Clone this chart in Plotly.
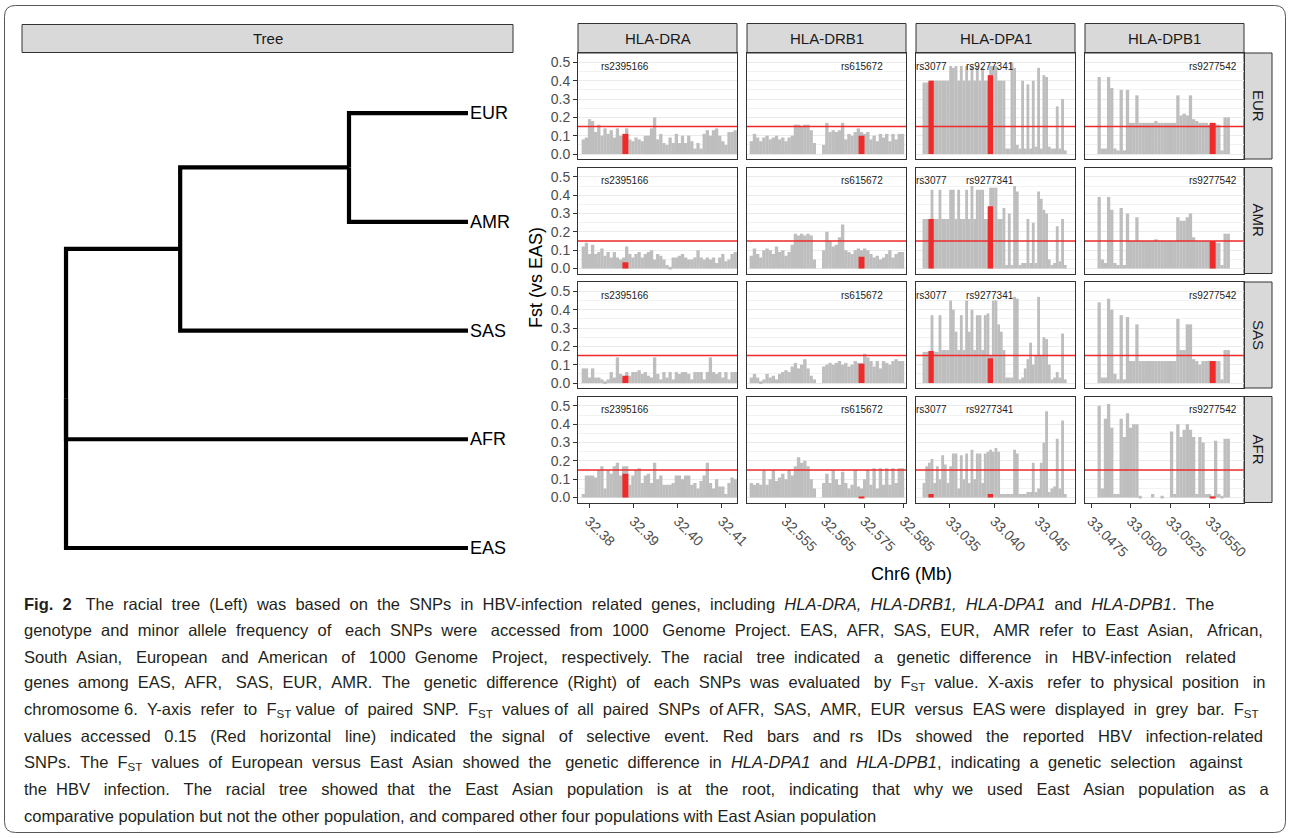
import re
import plotly.graph_objects as go

W, H = 1290, 838
FONT = "Liberation Sans, Arial, Helvetica, sans-serif"

genes = ["HLA-DRA", "HLA-DRB1", "HLA-DPA1", "HLA-DPB1"]
pops = ["EUR", "AMR", "SAS", "AFR"]

# ---------------- HLA-DRA ----------------
dra_pos = [32.3787, 32.3794, 32.3801, 32.3808, 32.3815, 32.3822, 32.3829, 32.3836, 32.3843, 32.3850,
           32.3857, 32.3864, 32.3871, 32.3878, 32.3885, 32.3892, 32.3899, 32.3906, 32.3913, 32.3920,
           32.3927, 32.3934, 32.3941, 32.3948, 32.3955, 32.3962, 32.3969, 32.3976, 32.3983, 32.3990,
           32.3997, 32.4004, 32.4011, 32.4018, 32.4025, 32.4032, 32.4039, 32.4046, 32.4053, 32.4060,
           32.4067, 32.4074, 32.4081, 32.4088, 32.4095, 32.4102, 32.4109, 32.4116, 32.4123, 32.4130]
dra_eur = [0.08, 0.09, 0.19, 0.18, 0.12, 0.16, 0.10, 0.14, 0.11, 0.13, 0.09, 0.14, 0.10, 0.10, 0.14, 0.08, 0.07, 0.09, 0.08, 0.07,
           0.10, 0.10, 0.14, 0.20, 0.08, 0.11, 0.06, 0.05, 0.09, 0.06, 0.11, 0.06, 0.10, 0.06, 0.10, 0.07, 0.03, 0.06, 0.03, 0.11,
           0.13, 0.10, 0.13, 0.14, 0.10, 0.07, 0.05, 0.12, 0.12, 0.13]
dra_amr = [0.12, 0.14, 0.08, 0.13, 0.08, 0.09, 0.11, 0.07, 0.09, 0.06, 0.09, 0.06, 0.05, 0.06, 0.12, 0.08, 0.06, 0.08, 0.09, 0.06,
           0.08, 0.09, 0.10, 0.05, 0.08, 0.07, 0.05, 0.02, 0.01, 0.06, 0.06, 0.07, 0.08, 0.06, 0.05, 0.05, 0.06, 0.10, 0.06, 0.05,
           0.06, 0.05, 0.06, 0.03, 0.06, 0.08, 0.04, 0.05, 0.08, 0.09]
dra_sas = [0.08, 0.08, 0.03, 0.08, 0.03, 0.03, 0.02, 0.01, 0.02, 0.06, 0.03, 0.14, 0.05, 0.03, 0.06, 0.04, 0.06, 0.06, 0.07, 0.05,
           0.06, 0.04, 0.03, 0.14, 0.05, 0.02, 0.06, 0.03, 0.06, 0.02, 0.06, 0.05, 0.06, 0.06, 0.05, 0.02, 0.06, 0.06, 0.06, 0.02,
           0.06, 0.14, 0.06, 0.05, 0.06, 0.03, 0.06, 0.02, 0.06, 0.06]
dra_afr = [0.02, 0.12, 0.12, 0.12, 0.11, 0.15, 0.17, 0.05, 0.15, 0.13, 0.17, 0.19, 0.12, 0.17, 0.17, 0.07, 0.12, 0.15, 0.16, 0.08,
           0.12, 0.13, 0.08, 0.19, 0.10, 0.12, 0.07, 0.07, 0.07, 0.08, 0.12, 0.12, 0.10, 0.12, 0.12, 0.07, 0.08, 0.05, 0.09, 0.12,
           0.19, 0.08, 0.05, 0.10, 0.06, 0.06, 0.02, 0.08, 0.11, 0.10]

# ---------------- HLA-DRB1 ----------------
drb1_pos = [32.5463, 32.5471, 32.5479, 32.5487, 32.5495, 32.5503, 32.5511, 32.5519, 32.5527, 32.5535,
            32.5543, 32.5551, 32.5559, 32.5567, 32.5575, 32.5583, 32.5591, 32.5599, 32.5607, 32.5615,
            32.5623, 32.5631, 32.5639, 32.5647, 32.5655, 32.5663, 32.5671, 32.5679, 32.5687, 32.5695,
            32.5703, 32.5711, 32.5719, 32.5727, 32.5735, 32.5743, 32.5751, 32.5759, 32.5767, 32.5775,
            32.5783, 32.5791, 32.5799, 32.5807, 32.5815, 32.5823, 32.5831, 32.5839, 32.5847]
drb1_eur = [0.07, 0.11, 0.09, 0.07, 0.09, 0.10, 0.08, 0.09, 0.10, 0.08, 0.09, 0.07, 0.09, 0.10, 0.16, 0.16, 0.15, 0.16, 0.16, 0.13,
            0.06, 0.0, 0.0, 0.05, 0.17, 0.12, 0.13, 0.12, 0.13, 0.17, 0.08, 0.11, 0.10, 0.12, 0.14, 0.12, 0.11, 0.12, 0.08, 0.10,
            0.07, 0.11, 0.09, 0.11, 0.07, 0.11, 0.08, 0.11, 0.11]
drb1_amr = [0.07, 0.11, 0.08, 0.06, 0.10, 0.11, 0.10, 0.08, 0.12, 0.09, 0.10, 0.07, 0.09, 0.13, 0.19, 0.18, 0.19, 0.18, 0.19, 0.18,
            0.05, 0.0, 0.0, 0.10, 0.20, 0.15, 0.12, 0.13, 0.17, 0.24, 0.10, 0.09, 0.08, 0.10, 0.11, 0.10, 0.11, 0.10, 0.08, 0.06,
            0.07, 0.05, 0.06, 0.08, 0.10, 0.06, 0.08, 0.09, 0.09]
drb1_sas = [0.03, 0.05, 0.03, 0.01, 0.02, 0.05, 0.03, 0.04, 0.02, 0.05, 0.06, 0.07, 0.06, 0.09, 0.11, 0.08, 0.10, 0.13, 0.08, 0.04,
            0.02, 0.0, 0.0, 0.09, 0.10, 0.11, 0.10, 0.11, 0.12, 0.10, 0.11, 0.09, 0.10, 0.12, 0.11, 0.11, 0.16, 0.14, 0.12, 0.09,
            0.12, 0.08, 0.12, 0.11, 0.10, 0.12, 0.13, 0.12, 0.12]
drb1_afr = [0.08, 0.07, 0.08, 0.07, 0.15, 0.07, 0.10, 0.15, 0.09, 0.11, 0.13, 0.10, 0.15, 0.12, 0.17, 0.22, 0.19, 0.20, 0.17, 0.10,
            0.05, 0.0, 0.0, 0.08, 0.13, 0.08, 0.15, 0.10, 0.07, 0.14, 0.08, 0.05, 0.07, 0.15, 0.06, 0.05, 0.10, 0.15, 0.07, 0.16,
            0.05, 0.16, 0.07, 0.16, 0.07, 0.16, 0.08, 0.16, 0.16]

# ---------------- HLA-DPA1 ----------------
dpa1_pos = [33.0321, 33.0324, 33.0327, 33.0330, 33.0333, 33.0336, 33.0339, 33.0342, 33.0345, 33.0348,
            33.0351, 33.0354, 33.0357, 33.0360, 33.0363, 33.0366, 33.0369, 33.0372, 33.0375, 33.0378,
            33.0381, 33.0384, 33.0387, 33.0390, 33.0393, 33.0396, 33.0399, 33.0402, 33.0405, 33.0408,
            33.0411, 33.0414, 33.0417, 33.0420, 33.0423, 33.0426, 33.0429, 33.0432, 33.0435, 33.0438,
            33.0441, 33.0444, 33.0447, 33.0450, 33.0453, 33.0456, 33.0459, 33.0462, 33.0465, 33.0468,
            33.0471, 33.0474, 33.0477, 33.0480]
dpa1_eur = [0.39, 0.39, 0.39, 0.40, 0.40, 0.40, 0.40, 0.40, 0.40, 0.40, 0.48, 0.47, 0.48, 0.40, 0.48, 0.40, 0.48, 0.40, 0.48, 0.40,
            0.48, 0.40, 0.47, 0.40, 0.40, 0.48, 0.48, 0.48, 0.40, 0.40, 0.40, 0.03, 0.03, 0.50, 0.47, 0.05, 0.03, 0.40, 0.03, 0.38,
            0.03, 0.40, 0.04, 0.47, 0.03, 0.43, 0.42, 0.04, 0.03, 0.03, 0.26, 0.03, 0.30, 0.02]
dpa1_amr = [0.27, 0.27, 0.27, 0.43, 0.27, 0.27, 0.43, 0.27, 0.27, 0.27, 0.43, 0.43, 0.27, 0.43, 0.27, 0.27, 0.43, 0.27, 0.45, 0.27,
            0.43, 0.43, 0.43, 0.27, 0.27, 0.44, 0.44, 0.44, 0.27, 0.27, 0.33, 0.02, 0.30, 0.02, 0.45, 0.42, 0.02, 0.03, 0.03, 0.27,
            0.03, 0.25, 0.03, 0.42, 0.38, 0.32, 0.30, 0.05, 0.02, 0.03, 0.23, 0.04, 0.27, 0.02]
dpa1_sas = [0.17, 0.17, 0.17, 0.37, 0.17, 0.17, 0.37, 0.18, 0.18, 0.18, 0.45, 0.40, 0.28, 0.18, 0.37, 0.18, 0.45, 0.28, 0.40, 0.18,
            0.37, 0.37, 0.18, 0.37, 0.38, 0.15, 0.45, 0.45, 0.32, 0.28, 0.18, 0.03, 0.03, 0.03, 0.47, 0.46, 0.02, 0.03, 0.08, 0.13,
            0.22, 0.10, 0.15, 0.47, 0.15, 0.25, 0.24, 0.10, 0.02, 0.03, 0.06, 0.03, 0.27, 0.02]
dpa1_afr = [0.08, 0.17, 0.19, 0.21, 0.08, 0.17, 0.10, 0.23, 0.18, 0.08, 0.17, 0.24, 0.24, 0.05, 0.23, 0.10, 0.24, 0.08, 0.26, 0.10,
            0.24, 0.24, 0.08, 0.24, 0.25, 0.26, 0.25, 0.27, 0.25, 0.02, 0.02, 0.02, 0.02, 0.02, 0.26, 0.24, 0.02, 0.02, 0.02, 0.03,
            0.03, 0.19, 0.03, 0.05, 0.19, 0.30, 0.47, 0.03, 0.05, 0.06, 0.32, 0.05, 0.42, 0.02]

# ---------------- HLA-DPB1 ----------------
dpb1_pos = [33.0480, 33.0482, 33.0484, 33.0486, 33.0488, 33.0490, 33.0492, 33.0494, 33.0496, 33.0498,
            33.0500, 33.0502, 33.0504, 33.0506, 33.0508, 33.0510, 33.0512, 33.0514, 33.0516, 33.0518,
            33.0520, 33.0522, 33.0524, 33.0526, 33.0528, 33.0530, 33.0532, 33.0534, 33.0536, 33.0538,
            33.0540, 33.0542, 33.0544, 33.0546, 33.0548, 33.0550, 33.0552, 33.0554, 33.0556, 33.0558,
            33.0560, 33.0562]
dpb1_eur = [0.42, 0.03, 0.03, 0.42, 0.36, 0.03, 0.02, 0.35, 0.02, 0.35, 0.17, 0.17, 0.32, 0.17, 0.17, 0.17, 0.17, 0.17, 0.18, 0.17,
            0.17, 0.17, 0.17, 0.17, 0.17, 0.32, 0.21, 0.22, 0.21, 0.32, 0.19, 0.18, 0.17, 0.17, 0.17, 0.16, 0.17, 0.16, 0.16, 0.02,
            0.20, 0.20]
dpb1_amr = [0.39, 0.05, 0.03, 0.39, 0.32, 0.03, 0.02, 0.33, 0.02, 0.30, 0.15, 0.15, 0.28, 0.15, 0.15, 0.15, 0.15, 0.15, 0.16, 0.15,
            0.15, 0.15, 0.15, 0.15, 0.15, 0.28, 0.26, 0.26, 0.28, 0.30, 0.17, 0.15, 0.15, 0.15, 0.15, 0.15, 0.15, 0.14, 0.14, 0.02,
            0.19, 0.19]
dpb1_sas = [0.44, 0.03, 0.03, 0.46, 0.40, 0.05, 0.02, 0.37, 0.02, 0.36, 0.12, 0.12, 0.32, 0.12, 0.12, 0.12, 0.12, 0.12, 0.12, 0.12,
            0.12, 0.12, 0.12, 0.12, 0.12, 0.35, 0.18, 0.18, 0.32, 0.32, 0.13, 0.12, 0.10, 0.12, 0.12, 0.12, 0.12, 0.12, 0.12, 0.02,
            0.18, 0.18]
dpb1_afr = [0.50, 0.05, 0.43, 0.51, 0.38, 0.02, 0.02, 0.43, 0.33, 0.46, 0.38, 0.40, 0.40, 0.01, 0.00, 0.00, 0.00, 0.02, 0.00, 0.00,
            0.01, 0.00, 0.00, 0.36, 0.02, 0.40, 0.33, 0.37, 0.40, 0.37, 0.33, 0.02, 0.33, 0.30, 0.02, 0.02, 0.01, 0.31, 0.02, 0.01,
            0.32, 0.32]

# ---------------- reported HBV-related SNPs (red bars) ----------------
snp_ids = {"HLA-DRA": ["rs2395166"], "HLA-DRB1": ["rs615672"],
           "HLA-DPA1": ["rs3077", "rs9277341"], "HLA-DPB1": ["rs9277542"]}
snp_pos = {"HLA-DRA": [32.3882], "HLA-DRB1": [32.5743],
           "HLA-DPA1": [33.0329, 33.03957], "HLA-DPB1": [33.05521]}
snp_fst = {
    "HLA-DRA": {"EUR": [0.11], "AMR": [0.035], "SAS": [0.04], "AFR": [0.13]},
    "HLA-DRB1": {"EUR": [0.10], "AMR": [0.065], "SAS": [0.105], "AFR": [0.005]},
    "HLA-DPA1": {"EUR": [0.40, 0.43], "AMR": [0.27, 0.34], "SAS": [0.175, 0.135], "AFR": [0.02, 0.02]},
    "HLA-DPB1": {"EUR": [0.17], "AMR": [0.15], "SAS": [0.12], "AFR": [0.005]},
}
threshold = 0.15

# ---------------- axis ticks ----------------
x_ticks = {"HLA-DRA": [32.38, 32.39, 32.40, 32.41],
           "HLA-DRB1": [32.555, 32.565, 32.575, 32.585],
           "HLA-DPA1": [33.035, 33.040, 33.045],
           "HLA-DPB1": [33.0475, 33.0500, 33.0525, 33.0550]}
x_ticktext = {"HLA-DRA": ["32.38", "32.39", "32.40", "32.41"],
              "HLA-DRB1": ["32.555", "32.565", "32.575", "32.585"],
              "HLA-DPA1": ["33.035", "33.040", "33.045"],
              "HLA-DPB1": ["33.0475", "33.0500", "33.0525", "33.0550"]}
y_ticks = [0.0, 0.1, 0.2, 0.3, 0.4, 0.5]
y_ticktext = ["0.0", "0.1", "0.2", "0.3", "0.4", "0.5"]

# ---------------- tree ----------------
tree_tips = ["EUR", "AMR", "SAS", "AFR", "EAS"]
tip_y = [5, 4, 3, 2, 1]
tip_depth = [1.0, 1.0, 1.0, 1.0, 1.0]
node_names = ["root", "n2", "n1"]
node_depth = [0.0, 0.284, 0.704]
node_y = [2.375, 3.75, 4.5]
tree_edges = [("root", "n2"), ("root", "AFR"), ("root", "EAS"),
              ("n2", "n1"), ("n2", "SAS"), ("n1", "EUR"), ("n1", "AMR")]

# ---------------- caption ----------------
caption_lines = [
    "<b>Fig. 2</b>\u00a0 The racial tree (Left) was based on the SNPs in HBV-infection related genes, including <i>HLA-DRA, HLA-DRB1, HLA-DPA1</i> and <i>HLA-DPB1</i>. The",
    "genotype and minor allele frequency of each SNPs were \u00a0accessed from 1000 Genome Project. EAS, AFR, SAS, EUR, AMR refer to East Asian, African,",
    "South Asian, European and American of 1000 Genome Project, respectively. The racial tree indicated a genetic difference in HBV-infection related",
    "genes among EAS, AFR, SAS, EUR, AMR. The genetic difference (Right) of each SNPs was evaluated by F<sub>ST</sub> value. X-axis refer to physical position in",
    "chromosome 6. Y-axis refer to F<sub>ST</sub> value of paired SNP. F<sub>ST</sub> values of all paired SNPs of AFR, SAS, AMR, EUR versus EAS were displayed in grey bar. F<sub>ST</sub>",
    "values accessed 0.15 (Red horizontal line) indicated the signal of selective event. Red bars and rs IDs showed the reported HBV infection-related",
    "SNPs. The F<sub>ST</sub> values of European versus East Asian showed the genetic difference in <i>HLA-DPA1</i> and <i>HLA-DPB1</i>, indicating a genetic selection against",
    "the HBV infection. The racial tree showed that the East Asian population is at the root, indicating that why we used East Asian population as a",
    "comparative population but not the other population, and compared other four populations with East Asian population",
]
caption_right = [1212, 1262, 1238, 1266, 1263, 1263, 1240, 1265, None]

# ================= assemble =================
pos = {"HLA-DRA": dra_pos, "HLA-DRB1": drb1_pos, "HLA-DPA1": dpa1_pos, "HLA-DPB1": dpb1_pos}
fst = {
    "HLA-DRA": {"EUR": dra_eur, "AMR": dra_amr, "SAS": dra_sas, "AFR": dra_afr},
    "HLA-DRB1": {"EUR": drb1_eur, "AMR": drb1_amr, "SAS": drb1_sas, "AFR": drb1_afr},
    "HLA-DPA1": {"EUR": dpa1_eur, "AMR": dpa1_amr, "SAS": dpa1_sas, "AFR": dpa1_afr},
    "HLA-DPB1": {"EUR": dpb1_eur, "AMR": dpb1_amr, "SAS": dpb1_sas, "AFR": dpb1_afr},
}
grey_width = {"HLA-DRA": 0.00075, "HLA-DRB1": 0.00086, "HLA-DPA1": 0.00032, "HLA-DPB1": 0.00021}
red_width = {"HLA-DRA": 0.00135, "HLA-DRB1": 0.0015, "HLA-DPA1": 0.0006, "HLA-DPB1": 0.00038}
x_range = {"HLA-DRA": [32.3775, 32.4134], "HLA-DRB1": [32.5452, 32.5856],
           "HLA-DPA1": [33.0312, 33.0491], "HLA-DPB1": [33.0471, 33.0572]}
y_range = [-0.027, 0.551]

col_x = [578, 747, 916, 1085]
col_w = 159
row_y = [53, 167.5, 282, 396.5]
row_h = 106

GREY = "#BEBEBE"
RED = "#EE2A2A"
DARK = "#333333"
TICKFONT = dict(family=FONT, size=14, color="#4D4D4D")


def fx(px):
    return px / W


def fy(py):
    return 1 - py / H


traces = []
layout = dict(width=W, height=H, autosize=False, margin=dict(l=0, r=0, t=0, b=0, pad=0, autoexpand=False),
              paper_bgcolor="white", plot_bgcolor="white", barmode="overlay",
              showlegend=False, font=dict(family=FONT, color="#1A1A1A"),
              shapes=[], annotations=[])

for r, pop in enumerate(pops):
    for c, gene in enumerate(genes):
        n = r * 4 + c + 1
        sfx = "" if n == 1 else str(n)
        xref, yref = "x" + sfx, "y" + sfx
        traces.append(go.Bar(x=pos[gene], y=fst[gene][pop], width=grey_width[gene],
                             marker=dict(color=GREY, line=dict(width=0)),
                             xaxis=xref, yaxis=yref, hoverinfo="skip"))
        traces.append(go.Bar(x=snp_pos[gene], y=snp_fst[gene][pop], width=red_width[gene],
                             marker=dict(color=RED, line=dict(width=0)),
                             xaxis=xref, yaxis=yref, hoverinfo="skip"))
        xa = dict(domain=[fx(col_x[c]), fx(col_x[c] + col_w)], range=x_range[gene],
                  anchor=yref, showgrid=False, zeroline=False, showline=True, mirror=True,
                  linecolor=DARK, linewidth=1, fixedrange=True, automargin=False)
        if r == len(pops) - 1:
            xa.update(tickmode="array", tickvals=x_ticks[gene], ticktext=x_ticktext[gene],
                      ticks="outside", ticklen=4, tickwidth=1, tickcolor=DARK, tickangle=45,
                      tickfont=TICKFONT)
        else:
            xa.update(showticklabels=False, ticks="")
        ya = dict(domain=[fy(row_y[r] + row_h), fy(row_y[r])], range=y_range, anchor=xref,
                  showgrid=True, gridcolor="#EBEBEB", gridwidth=1.2, zeroline=False,
                  showline=True, mirror=True, linecolor=DARK, linewidth=1, automargin=False,
                  tickmode="array", tickvals=y_ticks, fixedrange=True,
                  minor=dict(tickvals=[0.05, 0.15, 0.25, 0.35, 0.45], showgrid=True,
                             gridcolor="#F2F2F2", gridwidth=0.8, ticks=""))
        if c == 0:
            ya.update(ticktext=y_ticktext, ticks="outside", ticklen=4, tickwidth=1,
                      tickcolor=DARK, tickfont=TICKFONT)
        else:
            ya.update(showticklabels=False, ticks="")
        layout["xaxis" + sfx] = xa
        layout["yaxis" + sfx] = ya
        layout["shapes"].append(dict(type="line", xref=xref + " domain", yref=yref,
                                     x0=0, x1=1, y0=threshold, y1=threshold,
                                     line=dict(color=RED, width=1.6)))
        for sid, sx in zip(snp_ids[gene], snp_pos[gene]):
            layout["annotations"].append(dict(x=sx, y=0.48, xref=xref, yref=yref, text=sid,
                                              showarrow=False, xanchor="center", yanchor="middle",
                                              font=dict(family=FONT, size=10, color="#222222")))

# column strips
for c, gene in enumerate(genes):
    layout["shapes"].append(dict(type="rect", xref="paper", yref="paper",
                                 x0=fx(col_x[c]), x1=fx(col_x[c] + col_w), y0=fy(53), y1=fy(23.5),
                                 fillcolor="#D9D9D9", line=dict(color=DARK, width=1), layer="below"))
    layout["annotations"].append(dict(x=fx(col_x[c] + col_w / 2), y=fy(38.5), xref="paper", yref="paper",
                                      text=gene, showarrow=False, xanchor="center", yanchor="middle",
                                      font=dict(family=FONT, size=15, color="#1A1A1A")))
# row strips
for r, pop in enumerate(pops):
    layout["shapes"].append(dict(type="rect", xref="paper", yref="paper",
                                 x0=fx(1244), x1=fx(1272), y0=fy(row_y[r] + row_h), y1=fy(row_y[r]),
                                 fillcolor="#D9D9D9", line=dict(color=DARK, width=1), layer="below"))
    layout["annotations"].append(dict(x=fx(1258), y=fy(row_y[r] + row_h / 2), xref="paper", yref="paper",
                                      text=pop, showarrow=False, textangle=90,
                                      xanchor="center", yanchor="middle",
                                      font=dict(family=FONT, size=15, color="#1A1A1A")))

# axis titles
layout["annotations"].append(dict(x=fx(536), y=fy(278), xref="paper", yref="paper", text="Fst (vs EAS)",
                                  showarrow=False, textangle=-90, xanchor="center", yanchor="middle",
                                  font=dict(family=FONT, size=18, color="#000000")))
layout["annotations"].append(dict(x=fx(911), y=fy(574), xref="paper", yref="paper", text="Chr6 (Mb)",
                                  showarrow=False, xanchor="center", yanchor="middle",
                                  font=dict(family=FONT, size=18, color="#000000")))

# tree panel
nodes = {}
for nm, d, yv in zip(tree_tips, tip_depth, tip_y):
    nodes[nm] = (d, yv)
for nm, d, yv in zip(node_names, node_depth, node_y):
    nodes[nm] = (d, yv)
for parent, child in tree_edges:
    px_, py_ = nodes[parent]
    cx_, cy_ = nodes[child]
    traces.append(go.Scatter(x=[px_, px_, cx_], y=[py_, cy_, cy_], mode="lines",
                             line=dict(color="black", width=4.2), xaxis="x17", yaxis="y17",
                             hoverinfo="skip"))
for nm, d, yv in zip(tree_tips, tip_depth, tip_y):
    layout["annotations"].append(dict(x=d, y=yv, xref="x17", yref="y17", text=nm, showarrow=False,
                                      xanchor="left", yanchor="middle", xshift=0,
                                      font=dict(family=FONT, size=18, color="#000000")))
layout["xaxis17"] = dict(domain=[fx(22), fx(513)], range=[-0.1095, 1.112], anchor="y17",
                         visible=False, fixedrange=True, automargin=False)
layout["yaxis17"] = dict(domain=[fy(590), fy(53)], range=[0.614, 5.552], anchor="x17",
                         visible=False, fixedrange=True, automargin=False)
layout["shapes"].append(dict(type="rect", xref="paper", yref="paper",
                             x0=fx(22), x1=fx(513), y0=fy(52.5), y1=fy(24.5),
                             fillcolor="#D9D9D9", line=dict(color=DARK, width=1), layer="below"))
layout["annotations"].append(dict(x=fx(267.5), y=fy(38.5), xref="paper", yref="paper", text="Tree",
                                  showarrow=False, xanchor="center", yanchor="middle",
                                  font=dict(family=FONT, size=15, color="#1A1A1A")))

# outer rounded frame
x0, y0, x1, y1, rr = 4.5, 5.5, 1285.5, 832.5, 11


def P(x, y):
    return f"{fx(x):.5f},{fy(y):.5f}"


frame = (f"M {P(x0 + rr, y0)} L {P(x1 - rr, y0)} Q {P(x1, y0)} {P(x1, y0 + rr)} "
         f"L {P(x1, y1 - rr)} Q {P(x1, y1)} {P(x1 - rr, y1)} L {P(x0 + rr, y1)} "
         f"Q {P(x0, y1)} {P(x0, y1 - rr)} L {P(x0, y0 + rr)} Q {P(x0, y0)} {P(x0 + rr, y0)} Z")
layout["shapes"].append(dict(type="path", xref="paper", yref="paper", path=frame,
                             line=dict(color="#555555", width=1), layer="below"))

# caption, word-spaced to approximate the justified lines of the reference
ARIAL = {' ': 278, '\u00a0': 278, '!': 278, '(': 333, ')': 333, ',': 278, '-': 333, '.': 278, ':': 278,
         '0': 556, '1': 556, '2': 556, '3': 556, '4': 556, '5': 556, '6': 556, '7': 556, '8': 556, '9': 556,
         'A': 667, 'B': 667, 'C': 722, 'D': 722, 'E': 667, 'F': 611, 'G': 778, 'H': 722, 'I': 278, 'J': 500,
         'K': 667, 'L': 556, 'M': 833, 'N': 722, 'O': 778, 'P': 667, 'Q': 778, 'R': 722, 'S': 667, 'T': 611,
         'U': 722, 'V': 667, 'W': 944, 'X': 667, 'Y': 667, 'Z': 611,
         'a': 556, 'b': 556, 'c': 500, 'd': 556, 'e': 556, 'f': 278, 'g': 556, 'h': 556, 'i': 222, 'j': 222,
         'k': 500, 'l': 222, 'm': 833, 'n': 556, 'o': 556, 'p': 556, 'q': 556, 'r': 333, 's': 500, 't': 278,
         'u': 556, 'v': 500, 'w': 722, 'x': 500, 'y': 500, 'z': 500}
CAP_SIZE = 16.5


def text_width(html, size):
    w = 0.0
    scale = 1.0
    for part in re.split(r"(<[^>]+>)", html):
        if part.startswith("<"):
            if part == "<sub>":
                scale = 0.7
            elif part == "</sub>":
                scale = 1.0
            continue
        for ch in part:
            w += ARIAL.get(ch, 556) * size / 1000.0 * scale
    return w


def spread(html, target_w, size):
    parts = html.split(" ")
    gaps = len(parts) - 1
    extra = target_w - text_width(html, size)
    n_add = max(0, int(round(extra / (0.278 * size))))
    out = parts[0]
    for j in range(gaps):
        k = (j + 1) * n_add // gaps - j * n_add // gaps
        out += " " + "\u00a0" * k + parts[j + 1]
    return out


for k, line in enumerate(caption_lines):
    txt = line if caption_right[k] is None else spread(line, caption_right[k] - 22, CAP_SIZE)
    layout["annotations"].append(dict(x=fx(22), y=fy(603.5 + 26.5 * k), xref="paper", yref="paper",
                                      text=txt, showarrow=False, xanchor="left", yanchor="middle",
                                      align="left",
                                      font=dict(family=FONT, size=CAP_SIZE, color="#231F20")))

fig = go.Figure(data=traces, layout=layout)
post = ("document.body.style.margin='0';document.body.style.padding='0';"
        "document.documentElement.style.overflow='hidden';document.body.style.overflow='hidden';")
fig.write_html("out.html", post_script=post, config={"displayModeBar": False})
